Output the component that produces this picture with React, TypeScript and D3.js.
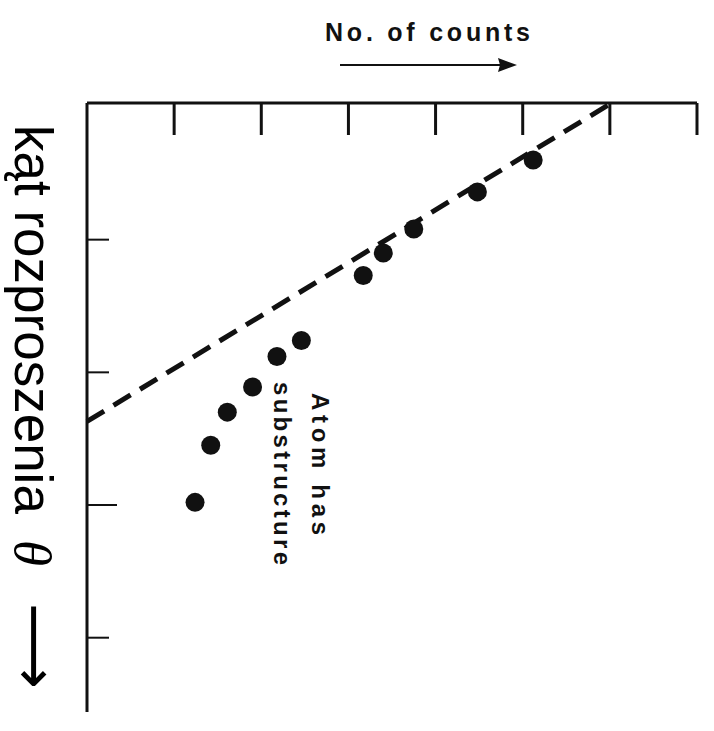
import React, { useRef, useEffect } from "react";
import * as d3 from "d3";

// counts (x) vs scattering angle (y)
const counts = [5.12, 4.48, 3.75, 3.4, 3.17, 2.46, 2.18, 1.9, 1.61, 1.42, 1.24];
const angles = [0.4, 0.64, 0.92, 1.1, 1.27, 1.76, 1.88, 2.11, 2.3, 2.55, 2.98];
// dashed guide line: two end points
const lineCounts = [0, 6.02];
const lineAngles = [2.37, -0.03];
const countTicks = [1, 2, 3, 4, 5, 6, 7];
const angleTicks = [1, 2, 3, 4];

export default function App() {
    const ref = useRef<SVGSVGElement | null>(null);

    useEffect(() => {
        if (!ref.current) return;
        const width = 714;
        const height = 731;
        const ink = "#111";

        const svg = d3.select(ref.current);
        svg.selectAll("*").remove();

        const x = d3.scaleLinear().domain([0, 7]).range([87, 697]);
        const y = d3.scaleLinear().domain([-0.03, 4.56]).range([103, 712]);

        // top axis with downward ticks
        svg.append("line")
            .attr("x1", x(0)).attr("x2", x(7))
            .attr("y1", y(-0.03)).attr("y2", y(-0.03))
            .attr("stroke", ink).attr("stroke-width", 3);
        svg.append("g")
            .selectAll("line")
            .data(countTicks)
            .join("line")
                .attr("x1", d => x(d)).attr("x2", d => x(d))
                .attr("y1", y(-0.03)).attr("y2", y(-0.03) + 32)
                .attr("stroke", ink).attr("stroke-width", 3);

        // left axis with ticks pointing right
        svg.append("line")
            .attr("x1", x(0)).attr("x2", x(0))
            .attr("y1", y(-0.03)).attr("y2", y(4.56))
            .attr("stroke", ink).attr("stroke-width", 3);
        svg.append("g")
            .selectAll("line")
            .data(angleTicks)
            .join("line")
                .attr("x1", x(0)).attr("x2", d => x(0) + (d === 3 ? 30 : 22))
                .attr("y1", d => y(d)).attr("y2", d => y(d))
                .attr("stroke", ink).attr("stroke-width", 2);

        // dashed line
        const line = d3.line<number>()
            .x(d => x(lineCounts[d]))
            .y(d => y(lineAngles[d]));
        svg.append("path")
            .attr("d", line([0, 1]))
            .attr("fill", "none")
            .attr("stroke", ink)
            .attr("stroke-width", 5)
            .attr("stroke-dasharray", "20 11");

        // points
        svg.append("g")
            .attr("fill", ink)
            .selectAll("circle")
            .data(counts)
            .join("circle")
                .attr("cx", d => x(d))
                .attr("cy", (d, i) => y(angles[i]))
                .attr("r", 9.5);

        // top title + arrow
        svg.append("text")
            .attr("x", 325).attr("y", 41)
            .attr("font-family", "Liberation Sans, Arial, sans-serif")
            .attr("font-weight", "bold")
            .attr("font-size", 25)
            .attr("fill", ink)
            .attr("textLength", 205)
            .attr("lengthAdjust", "spacing")
            .text("No. of counts");
        svg.append("line")
            .attr("x1", 340).attr("x2", 505)
            .attr("y1", 65).attr("y2", 65)
            .attr("stroke", ink).attr("stroke-width", 2);
        svg.append("path")
            .attr("d", "M 517 65 L 498 58 L 500 65 L 498 72 Z")
            .attr("fill", ink);

        // annotation, rotated
        const note = [
            { t: "Atom has", bx: 312, by: 393, len: 142 },
            { t: "substructure", bx: 274, by: 382, len: 183 },
        ];
        svg.append("g")
            .selectAll("text")
            .data(note)
            .join("text")
                .attr("transform", d => `translate(${d.bx},${d.by}) rotate(90)`)
                .attr("font-family", "Liberation Sans, Arial, sans-serif")
                .attr("font-weight", "bold")
                .attr("font-size", 24)
                .attr("fill", ink)
                .attr("textLength", d => d.len)
                .attr("lengthAdjust", "spacing")
                .text(d => d.t);

        // y label, rotated
        const ylab = svg.append("g")
            .attr("transform", "translate(15,125) rotate(90)");
        ylab.append("text")
            .attr("font-family", "Liberation Sans, Arial, sans-serif")
            .attr("font-size", 53)
            .attr("fill", "#000")
            .text("kąt rozproszenia");
        ylab.append("text")
            .attr("x", 415)
            .attr("font-family", "Liberation Serif, Times New Roman, serif")
            .attr("font-style", "italic")
            .attr("font-size", 53)
            .attr("fill", "#000")
            .text("θ");
        ylab.append("text")
            .attr("x", 478)
            .attr("font-family", "DejaVu Sans, sans-serif")
            .attr("font-size", 60)
            .attr("fill", "#000")
            .text("⟶");

        svg.attr("viewBox", [0, 0, width, height]);
    }, []);

    return (
        <svg
            ref={ref}
            width={714}
            height={731}
            style={{ position: "absolute", left: 0, top: 0, background: "#fff" }}
        />
    );
}
